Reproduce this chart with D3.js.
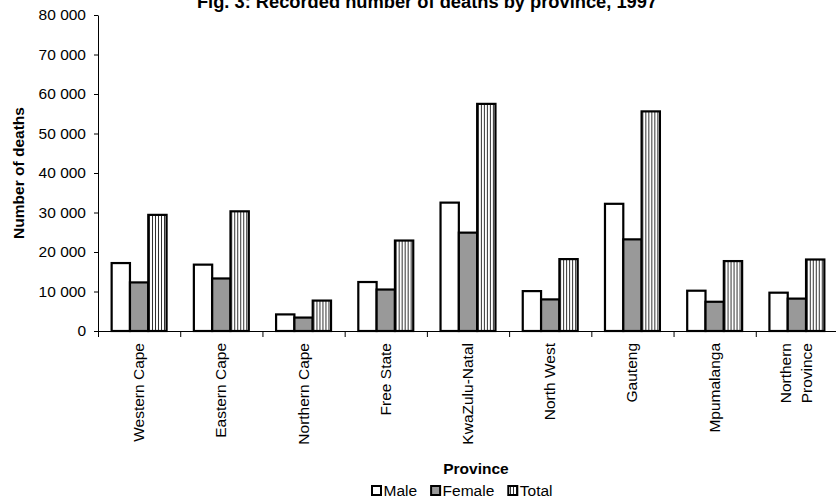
<!DOCTYPE html>
<html>
<head>
<meta charset="utf-8">
<script src="https://cdn.jsdelivr.net/npm/d3@7"></script>
<style>
  body { margin: 0; background: #fff; }
  svg { display: block; font-family: "Liberation Sans", Arial, sans-serif; }
</style>
</head>
<body>
<div id="chart"></div>
<script>
// data
var provinces = ["Western Cape", "Eastern Cape", "Northern Cape", "Free State", "KwaZulu-Natal",
  "North West", "Gauteng", "Mpumalanga", "Northern Province"];
var tickLabels = ["Western Cape", "Eastern Cape", "Northern Cape", "Free State", "KwaZulu-Natal",
  "North West", "Gauteng", "Mpumalanga", "Northern\nProvince"];
var series = ["Male", "Female", "Total"];
var male = [17200, 16800, 4200, 12400, 32500, 10100, 32200, 10200, 9700];
var female = [12300, 13300, 3400, 10500, 24900, 8000, 23200, 7400, 8200];
var total = [29400, 30300, 7700, 22900, 57500, 18200, 55600, 17700, 18100];
var yTicks = [0, 10000, 20000, 30000, 40000, 50000, 60000, 70000, 80000];

var W = 836, H = 503;
var plotLeft = 98, plotRight = 838, plotTop = 15, plotBottom = 331;

var svg = d3.select("#chart").append("svg")
  .attr("width", W)
  .attr("height", H);

// hatch for the Total bars
var defs = svg.append("defs");
var pat = defs.append("pattern")
  .attr("id", "vstripes")
  .attr("patternUnits", "userSpaceOnUse")
  .attr("width", 3)
  .attr("height", 6);
pat.append("rect").attr("width", 3).attr("height", 6).attr("fill", "#fff");
pat.append("rect").attr("x", 0).attr("width", 1).attr("height", 6).attr("fill", "#333");

var fills = {"Male": "#ffffff", "Female": "#999999", "Total": "url(#vstripes)"};

var x = d3.scaleBand()
  .domain(provinces)
  .range([plotLeft, plotRight])
  .paddingInner(0)
  .paddingOuter(0);

var x1 = d3.scaleBand()
  .domain(series)
  .range([0, x.bandwidth()])
  .paddingInner(0)
  .paddingOuter(0.745);

var y = d3.scaleLinear()
  .domain([0, 80000])
  .range([plotBottom, plotTop]);

var loc = d3.formatLocale({decimal: ".", thousands: " ", grouping: [3], currency: ["", ""]});
var fmt = loc.format(",d");

// Y axis
var yAxis = svg.append("g")
  .attr("transform", "translate(" + plotLeft + ",0)")
  .call(d3.axisLeft(y).tickValues(yTicks).tickFormat(fmt).tickSize(4).tickPadding(8).tickSizeOuter(0));
yAxis.selectAll("text")
  .style("font-size", "15.5px")
  .attr("fill", "#000");
yAxis.selectAll("line, path").attr("stroke", "#000");

// X axis (ticks on category boundaries)
var xb = d3.scaleLinear().domain([0, provinces.length]).range([plotLeft, plotRight]);
var xAxis = svg.append("g")
  .attr("transform", "translate(0," + plotBottom + ")")
  .call(d3.axisBottom(xb).ticks(provinces.length).tickSize(6).tickFormat("").tickSizeOuter(0));
xAxis.selectAll("line, path").attr("stroke", "#000");

// bars
var rows = provinces.map(function(p, i) {
  return {province: p, values: [
    {key: "Male", value: male[i]},
    {key: "Female", value: female[i]},
    {key: "Total", value: total[i]}
  ]};
});

var groups = svg.append("g")
  .selectAll("g")
  .data(rows)
  .enter()
  .append("g")
  .attr("transform", function(d) { return "translate(" + x(d.province) + ",0)"; });

groups.selectAll("rect")
  .data(function(d) { return d.values; })
  .enter()
  .append("rect")
  .attr("x", function(d) { return x1(d.key); })
  .attr("y", function(d) { return y(d.value); })
  .attr("width", x1.bandwidth())
  .attr("height", function(d) { return y(0) - y(d.value); })
  .attr("fill", function(d) { return fills[d.key]; })
  .attr("stroke", "#000")
  .attr("stroke-width", 2.2);

// category labels, rotated
var lab = svg.append("g").selectAll("g")
  .data(provinces)
  .enter()
  .append("g");

lab.each(function(p, i) {
  var lines = tickLabels[i].split("\n");
  var cx = x(p) + x.bandwidth() / 2;
  var g = d3.select(this);
  lines.forEach(function(t, j) {
    var bx = cx + 5 + (j - (lines.length - 1) / 2) * 21;
    g.append("text")
      .attr("transform", "translate(" + bx + "," + (plotBottom + 12) + ") rotate(-90)")
      .attr("text-anchor", "end")
      .style("font-size", "15.5px")
      .text(t);
  });
});

// title
svg.append("text")
  .attr("x", 427)
  .attr("y", 8)
  .attr("text-anchor", "middle")
  .style("font-size", "18.3px")
  .style("font-weight", "bold")
  .text("Fig. 3: Recorded number of deaths by province, 1997");

// axis titles
svg.append("text")
  .attr("transform", "translate(24," + ((plotTop + plotBottom) / 2) + ") rotate(-90)")
  .attr("text-anchor", "middle")
  .style("font-size", "15.5px")
  .style("font-weight", "bold")
  .text("Number of deaths");

svg.append("text")
  .attr("x", 476)
  .attr("y", 474)
  .attr("text-anchor", "middle")
  .style("font-size", "15.5px")
  .style("font-weight", "bold")
  .text("Province");

// legend
var lx = 372;
series.forEach(function(s) {
  svg.append("rect")
    .attr("x", lx)
    .attr("y", 486)
    .attr("width", 9)
    .attr("height", 9)
    .attr("fill", fills[s])
    .attr("stroke", "#000")
    .attr("stroke-width", 2);
  var t = svg.append("text")
    .attr("x", lx + 11.5)
    .attr("y", 496)
    .style("font-size", "15.5px")
    .text(s);
  lx += 11.5 + t.node().getComputedTextLength() + 14;
});
</script>
</body>
</html>
